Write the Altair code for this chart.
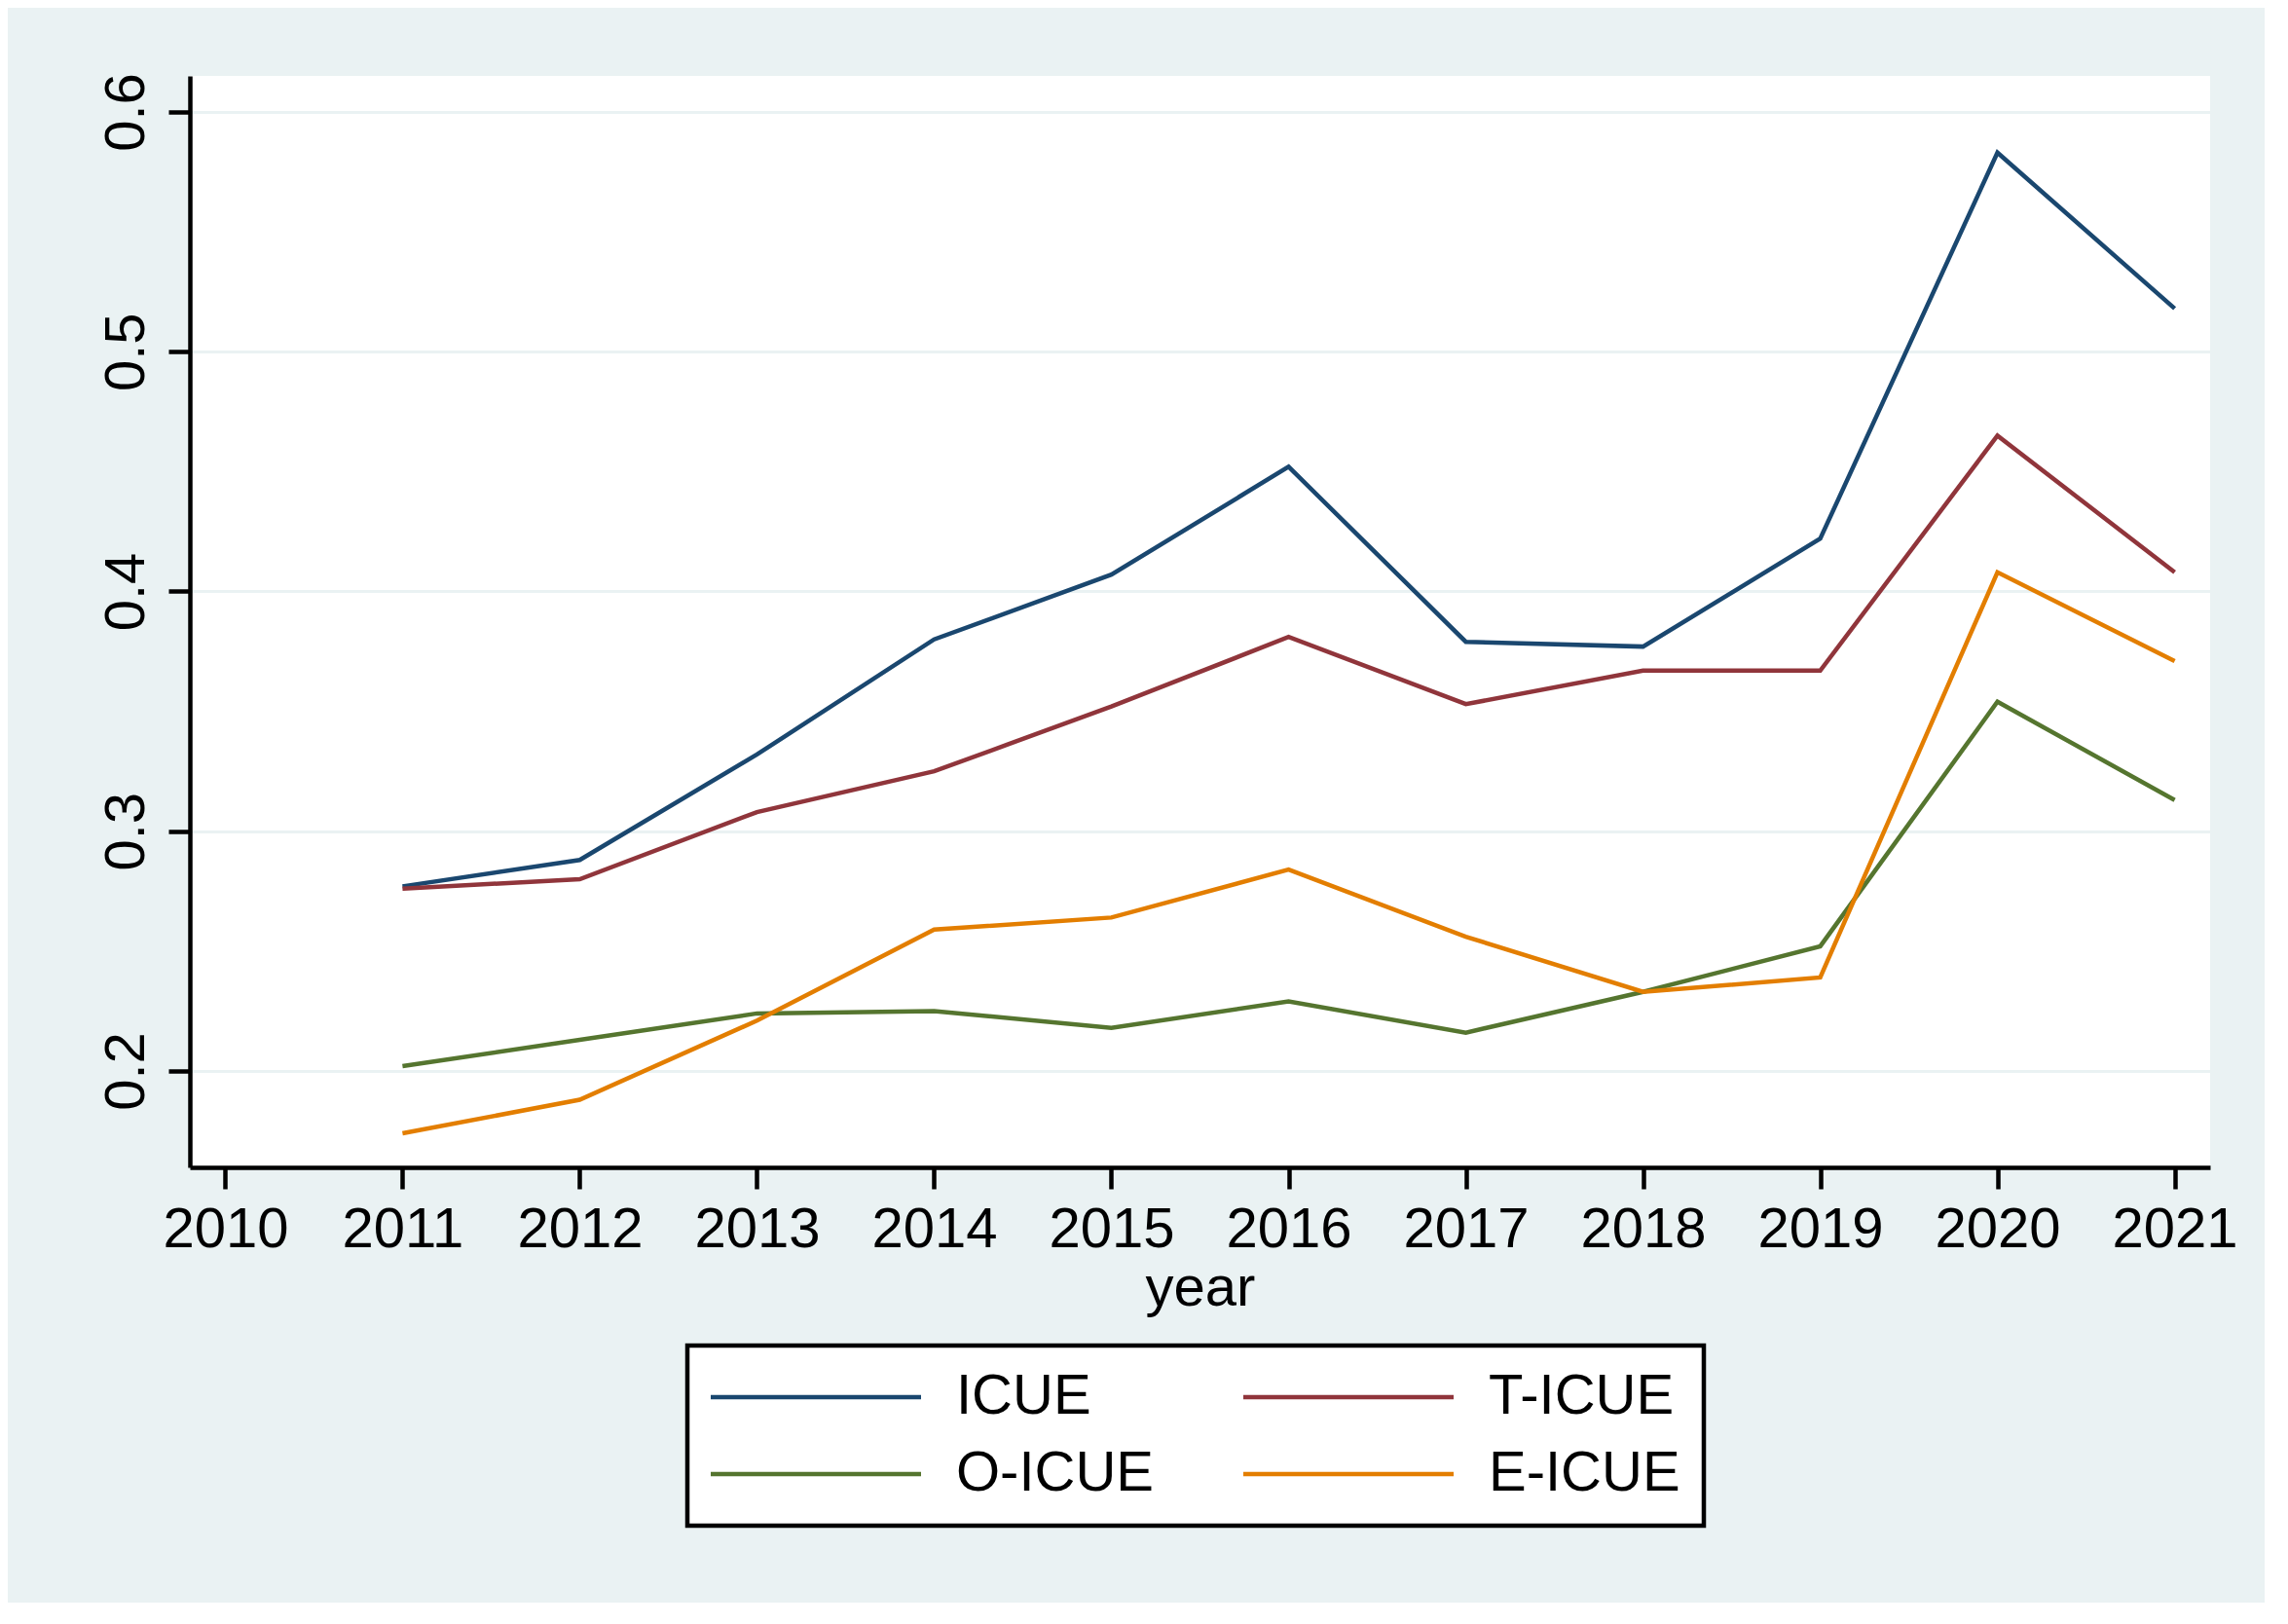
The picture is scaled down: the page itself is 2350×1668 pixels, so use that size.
import altair as alt
import pandas as pd

years = [2011, 2012, 2013, 2014, 2015, 2016, 2017, 2018, 2019, 2020, 2021]
icue = [0.277, 0.288, 0.332, 0.380, 0.407, 0.452, 0.379, 0.377, 0.422, 0.583, 0.518]
t_icue = [0.276, 0.280, 0.308, 0.325, 0.352, 0.381, 0.353, 0.367, 0.367, 0.465, 0.408]
o_icue = [0.202, 0.213, 0.224, 0.225, 0.218, 0.229, 0.216, 0.233, 0.252, 0.354, 0.313]
e_icue = [0.174, 0.188, 0.221, 0.259, 0.264, 0.284, 0.256, 0.233, 0.239, 0.408, 0.371]

series_names = ["ICUE", "T-ICUE", "O-ICUE", "E-ICUE"]
series_colors = {"ICUE": "#1a476f", "T-ICUE": "#90353b", "O-ICUE": "#55752f", "E-ICUE": "#e37e00"}
# legend fills column by column: col 1 = ICUE, O-ICUE; col 2 = T-ICUE, E-ICUE
legend_order = ["ICUE", "O-ICUE", "T-ICUE", "E-ICUE"]
x_ticks = list(range(2010, 2022))
y_ticks = [0.2, 0.3, 0.4, 0.5, 0.6]

rows = []
for name, vals in zip(series_names, [icue, t_icue, o_icue, e_icue]):
    for yr, v in zip(years, vals):
        rows.append({"year": yr, "value": v, "series": name})
df = pd.DataFrame(rows)

FONT = "Liberation Sans, Arial, sans-serif"
FS = 58
LW = 4.5

chart = alt.Chart(df).mark_line(strokeWidth=LW).encode(
    x=alt.X("year:Q",
            scale=alt.Scale(domain=[2009.8, 2021.2], nice=False, zero=False),
            axis=alt.Axis(values=x_ticks, format="d", title="year", grid=False,
                          tickSize=22, tickWidth=LW, tickColor="black",
                          domainColor="black", domainWidth=LW,
                          labelFontSize=FS, labelFont=FONT, labelColor="black",
                          labelPadding=13, titleFontSize=FS, titleFont=FONT,
                          titleFontWeight="normal", titleColor="black",
                          titlePadding=2)),
    y=alt.Y("value:Q",
            scale=alt.Scale(domain=[0.1598, 0.615], nice=False, zero=False),
            axis=alt.Axis(values=y_ticks, format=".1f", title=None, grid=True,
                          gridColor="#eaf2f3", gridWidth=3,
                          tickSize=22, tickWidth=LW, tickColor="black",
                          domainColor="black", domainWidth=LW,
                          labelFontSize=FS, labelFont=FONT, labelColor="black",
                          labelAngle=270, labelAlign="center", labelBaseline="bottom",
                          labelPadding=14)),
    color=alt.Color("series:N",
                    scale=alt.Scale(domain=legend_order,
                                    range=[series_colors[n] for n in legend_order]),
                    legend=alt.Legend(title=None, orient="none", legendX=511, legendY=1304,
                                      columns=2, symbolType="M-10,0H10", symbolSize=466.56,
                                      symbolStrokeWidth=LW, symbolOffset=79,
                                      labelFontSize=FS, labelFont=FONT,
                                      labelColor="black", labelOffset=115, columnPadding=83,
                                      rowPadding=21, padding=24, strokeColor="black",
                                      fillColor="white", labelLimit=600)),
    detail="series:N",
).properties(
    width=2075,
    height=1121,
    padding={"left": 187, "top": 70, "right": 56, "bottom": 447},
    autosize=alt.AutoSizeParams(type="none"),
    background="#eaf2f3",
).configure_view(
    stroke=None, fill="white"
).configure_legend(
    strokeWidth=LW
)

chart.save("out.html", embed_options={"renderer": "svg", "actions": False})
